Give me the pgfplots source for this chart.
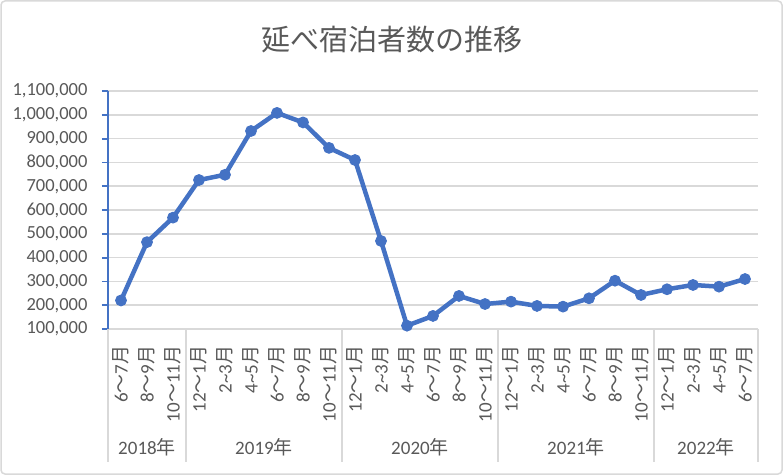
\documentclass[border=0pt]{standalone}
\usepackage{pgfplots}
\pgfplotsset{compat=1.18}
\usepackage{fontspec}
\setmainfont{Carlito}
\newfontfamily\jp{Noto Sans CJK JP}
\definecolor{cblue}{HTML}{4472C4}
\definecolor{cgrid}{HTML}{D9D9D9}
\definecolor{ctext}{HTML}{595959}
\newcommand\M[2]{#1{\jp ～}#2{\jp 月}}
\newcommand\N[2]{#1\textasciitilde#2{\jp 月}}
\begin{document}
\begin{tikzpicture}
\useasboundingbox (0pt,0pt) rectangle (783pt,475pt);
\draw[cgrid, line width=1.5pt, rounded corners=4pt, fill=white] (1pt,1pt) rectangle (782pt,474pt);
\node[ctext, font=\jp\fontsize{29}{32}\selectfont] at (391.5pt,435pt) {延べ宿泊者数の推移};
\begin{axis}[
 at={(108pt,146pt)}, anchor=south west, scale only axis, width=650pt, height=238pt,
 xmin=0.5, xmax=25.5, ymin=100000, ymax=1100000, clip=false,
 axis x line*=bottom, axis y line*=left,
 x axis line style={-, cgrid, line width=1.5pt},
 y axis line style={-, cblue, line width=1.8pt},
 ymajorgrids, major grid style={cgrid, line width=1.5pt},
 ytick={100000,200000,300000,400000,500000,600000,700000,800000,900000,1000000,1100000},
 scaled y ticks=false,
 /pgf/number format/fixed, /pgf/number format/precision=0,
 /pgf/number format/1000 sep={,}, /pgf/number format/assume math mode=true,
 tick align=outside, major tick length=6pt,
 ytick style={cblue, line width=1.8pt},
 xtick={1,...,25}, xtick style={draw=none},
 xticklabels={\M{6}{7},\M{8}{9},\M{10}{11},
  \M{12}{1},\N{2}{3},\N{4}{5},\M{6}{7},\M{8}{9},\M{10}{11},
  \M{12}{1},\N{2}{3},\N{4}{5},\M{6}{7},\M{8}{9},\M{10}{11},
  \M{12}{1},\N{2}{3},\N{4}{5},\M{6}{7},\M{8}{9},\M{10}{11},
  \M{12}{1},\N{2}{3},\N{4}{5},\M{6}{7}},
 tick label style={text=ctext},
 xticklabel style={font=\fontsize{19}{20}\selectfont, rotate=90, anchor=east},
 yticklabel style={font=\fontsize{18.5}{20}\selectfont},
 xticklabel shift=7pt, yticklabel shift=11pt,
]
\addplot[cblue, line width=4.5pt, line join=round, mark=*, mark size=5.4pt,
  mark options={fill=cblue, draw=cblue, line width=1pt, solid}] coordinates {
(1,220000) (2,465000) (3,568000) (4,726000) (5,748000) (6,932000)
(7,1008000) (8,968000) (9,861000) (10,810000) (11,470000) (12,114000)
(13,155000) (14,239000) (15,205000) (16,215000) (17,197000) (18,194000)
(19,229000) (20,303000) (21,243000) (22,267000) (23,285000) (24,278000)
(25,310000)};
\draw[cgrid, line width=1.5pt] (axis cs:0.5,100000) -- ++(0pt,-133pt);
\draw[cgrid, line width=1.5pt] (axis cs:3.5,100000) -- ++(0pt,-133pt);
\draw[cgrid, line width=1.5pt] (axis cs:9.5,100000) -- ++(0pt,-133pt);
\draw[cgrid, line width=1.5pt] (axis cs:15.5,100000) -- ++(0pt,-133pt);
\draw[cgrid, line width=1.5pt] (axis cs:21.5,100000) -- ++(0pt,-133pt);
\draw[cgrid, line width=1.5pt] (axis cs:25.5,100000) -- ++(0pt,-133pt);
\node[ctext, font=\fontsize{19}{20}\selectfont] at ([yshift=-118pt]axis cs:2,100000) {2018{\jp 年}};
\node[ctext, font=\fontsize{19}{20}\selectfont] at ([yshift=-118pt]axis cs:6.5,100000) {2019{\jp 年}};
\node[ctext, font=\fontsize{19}{20}\selectfont] at ([yshift=-118pt]axis cs:12.5,100000) {2020{\jp 年}};
\node[ctext, font=\fontsize{19}{20}\selectfont] at ([yshift=-118pt]axis cs:18.5,100000) {2021{\jp 年}};
\node[ctext, font=\fontsize{19}{20}\selectfont] at ([yshift=-118pt]axis cs:23.5,100000) {2022{\jp 年}};
\end{axis}
\end{tikzpicture}
\end{document}
